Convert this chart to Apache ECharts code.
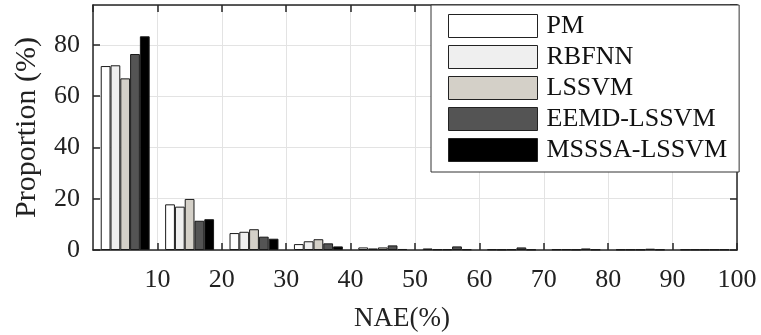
<!DOCTYPE html>
<html>
<head>
<meta charset="utf-8">
<script src="https://cdn.jsdelivr.net/npm/echarts@6/dist/echarts.min.js"></script>
<style>html,body{margin:0;padding:0;background:#fff}#c{width:761px;height:335px}</style>
</head>
<body>
<div id="c"></div>
<script>
const categories = ['0-10','10-20','20-30','30-40','40-50','50-60','60-70','70-80','80-90','90-100'];
const seriesNames = ['PM','RBFNN','LSSVM','EEMD-LSSVM','MSSSA-LSSVM'];
const pm    = [71.7, 17.8, 6.6, 2.3, 1.0, 0.6, 0.3, 0.3, 0.2, 0.2];
const rbfnn = [72.0, 16.9, 7.1, 3.4, 0.6, 0.3, 0.2, 0.3, 0.2, 0.2];
const lssvm = [66.9, 19.9, 8.1, 4.2, 1.0, 0.3, 0.3, 0.2, 0.2, 0.2];
const eemd  = [76.4, 11.4, 5.2, 2.6, 1.8, 1.4, 1.0, 0.6, 0.5, 0.2];
const msssa = [83.3, 12.0, 4.4, 1.4, 0.4, 0.3, 0.2, 0.2, 0.2, 0.2];
const xTicks = [0, 10, 20, 30, 40, 50, 60, 70, 80, 90, 100];
const yTicks = [0, 20, 40, 60, 80];

const colors = ['#ffffff', '#efefef', '#d4d0c8', '#545454', '#000000'];
const font = "'Liberation Serif', 'Times New Roman', serif";
const axisColor = '#262626';
const dataSets = [pm, rbfnn, lssvm, eemd, msssa];

const chart = echarts.init(document.getElementById('c'), null, {renderer: 'canvas'});
const option = {
  animation: false,
  backgroundColor: '#fff',
  textStyle: {fontFamily: font},
  grid: {left: 93, right: 24, top: 5, bottom: 85, containLabel: false, outerBoundsMode: 'none'},
  legend: {
    orient: 'vertical',
    left: 431, top: 5,
    padding: [8, 12, 9, 17],
    itemWidth: 89, itemHeight: 23, itemGap: 5,
    icon: 'rect',
    backgroundColor: '#fff',
    borderColor: '#333', borderWidth: 1,
    itemStyle: {borderColor: '#222', borderWidth: 1},
    textStyle: {fontFamily: font, fontSize: 26, color: '#111', padding: [0, 0, 0, 4]},
    data: seriesNames
  },
  xAxis: [
    {type: 'category', data: categories, show: false, boundaryGap: true, gridIndex: 0},
    {
      type: 'value', min: xTicks[0], max: xTicks[xTicks.length - 1], interval: 10, position: 'bottom',
      name: 'NAE(%)', nameLocation: 'middle', nameGap: 55,
      nameTextStyle: {fontFamily: font, fontSize: 27, color: '#222', padding: [0, 26, 0, 0]},
      axisLine: {show: true, onZero: false, lineStyle: {color: axisColor, width: 1.5}},
      axisTick: {show: true, inside: true, length: 7, lineStyle: {color: axisColor, width: 1.5}},
      axisLabel: {show: true, showMinLabel: false, margin: 17, fontFamily: font, fontSize: 26, color: '#222'},
      splitLine: {show: true, lineStyle: {color: '#e3e3e3', width: 1}}
    },
    {
      type: 'value', min: 0, max: 100, interval: 10, position: 'top',
      axisLine: {show: true, onZero: false, lineStyle: {color: axisColor, width: 1.5}},
      axisTick: {show: true, inside: true, length: 7, lineStyle: {color: axisColor, width: 1.5}},
      axisLabel: {show: false},
      splitLine: {show: false}
    }
  ],
  yAxis: [
    {
      type: 'value', min: 0, max: 95.5, interval: 20, position: 'left',
      name: 'Proportion (%)', nameLocation: 'middle', nameGap: 51,
      nameTextStyle: {fontFamily: font, fontSize: 30, color: '#222'},
      axisLine: {show: true, onZero: false, lineStyle: {color: axisColor, width: 1.5}},
      axisTick: {show: true, inside: true, length: 7, lineStyle: {color: axisColor, width: 1.5}},
      axisLabel: {show: true, showMaxLabel: false, margin: 13, fontFamily: font, fontSize: 26, color: '#222',
        formatter: v => yTicks.indexOf(v) >= 0 ? String(v) : ''},
      splitLine: {show: true, lineStyle: {color: '#e3e3e3', width: 1}}
    },
    {
      type: 'value', min: 0, max: 95.5, interval: 20, position: 'right',
      axisLine: {show: true, onZero: false, lineStyle: {color: axisColor, width: 1.5}},
      axisTick: {show: true, inside: true, length: 7, lineStyle: {color: axisColor, width: 1.5}},
      axisLabel: {show: false},
      splitLine: {show: false}
    }
  ],
  series: seriesNames.map((name, i) => ({
    name: name,
    type: 'bar',
    xAxisIndex: 0,
    yAxisIndex: 0,
    data: dataSets[i],
    barGap: '0%',
    barCategoryGap: '24%',
    itemStyle: {color: colors[i], borderColor: '#1a1a1a', borderWidth: 1},
    emphasis: {disabled: true}
  }))
};
chart.setOption(option);
</script>
</body>
</html>
